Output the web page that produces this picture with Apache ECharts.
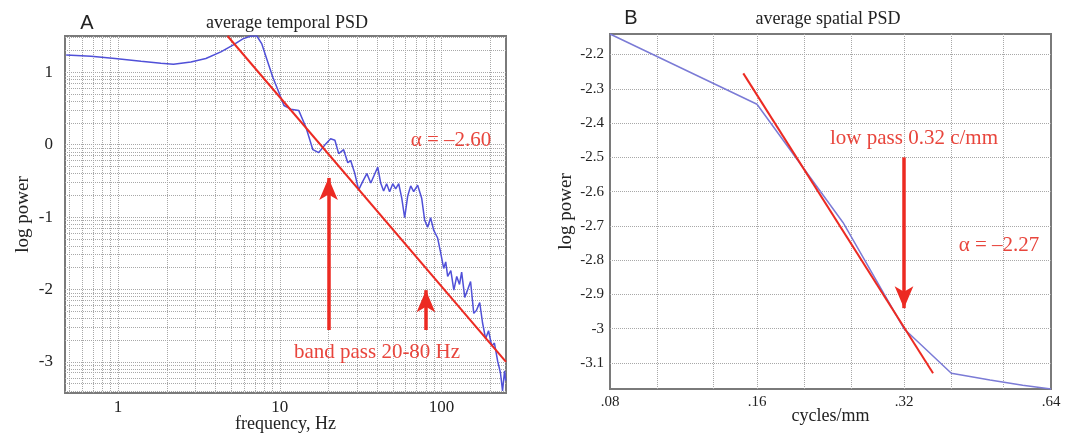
<!DOCTYPE html>
<html>
<head>
<meta charset="utf-8">
<script src="https://cdn.jsdelivr.net/npm/echarts@6/dist/echarts.min.js"></script>
<style>
  html, body { margin: 0; padding: 0; background: #fff; }
  #chart { width: 1069px; height: 434px; }
</style>
</head>
<body>
<div id="chart"></div>
<script>
// ---- panel A: average temporal PSD ----
const tempFreq = [0.478, 0.681, 0.958, 1.387, 1.84, 2.2, 2.82, 3.49, 4.32, 5.13, 5.91, 6.63, 7.21, 7.74, 8.31,
  9.05, 9.87, 10.6, 11.7, 13.1, 14.5, 16.0, 17.4, 18.9, 20.6, 21.9, 23.1, 24.8, 26.3, 27.4, 29.0, 30.7,
  32.5, 34.5, 36.5, 38.0, 40.3, 42.0, 43.8, 45.7, 47.7, 49.9, 52.0, 54.3, 56.7, 59.1, 61.7, 64.4, 67.2,
  71.1, 75.3, 78.5, 82.0, 85.5, 89.3, 94.5, 98.6, 103, 106, 109, 114, 119, 124, 129, 133, 139, 145, 151, 158,
  164, 172, 179, 187, 195, 204, 212, 222, 231, 238, 245, 249];
const tempPower = [1.236, 1.22, 1.19, 1.15, 1.125, 1.11, 1.14, 1.19, 1.28, 1.375, 1.46, 1.5, 1.5, 1.39, 1.18,
  0.93, 0.72, 0.54, 0.49, 0.47, 0.24, -0.07, -0.11, -0.01, 0.08, 0.06, -0.125, -0.07, -0.25, -0.22, -0.39, -0.625,
  -0.51, -0.40, -0.53, -0.44, -0.31, -0.53, -0.64, -0.54, -0.65, -0.54, -0.61, -0.54, -0.74, -1.01, -0.71, -0.57, -0.65,
  -0.56, -0.74, -1.04, -1.14, -1.01, -1.18, -1.29, -1.49, -1.71, -1.62, -1.82, -1.74, -2.01, -1.82, -1.93, -1.76, -2.11, -2.0, -1.89, -2.33,
  -2.29, -2.18, -2.46, -2.68, -2.57, -2.78, -2.74, -2.99, -3.15, -3.40, -3.125, -3.26];
const tempFitFreq = [4.75, 250];
const tempFitPower = [1.5, -3.0];
const tempXLabels = [1, 10, 100];
const tempYLabels = [-3, -2, -1, 0, 1];
// arrows: [x, from, to]
const tempArrows = [[20, -2.56, -0.46], [80, -2.56, -2.01]];

// ---- panel B: average spatial PSD ----
const spatFreq = [0.08, 0.16, 0.24, 0.32, 0.40, 0.48, 0.56, 0.64];
const spatPower = [-2.14, -2.345, -2.69, -3.0, -3.13, -3.15, -3.165, -3.176];
const spatFitFreq = [0.15, 0.367];
const spatFitPower = [-2.255, -3.13];
const spatXLabels = [0.08, 0.16, 0.32, 0.64];
const spatYLabels = [-2.2, -2.3, -2.4, -2.5, -2.6, -2.7, -2.8, -2.9, -3.0, -3.1];
const spatArrows = [[0.32, -2.5, -2.94]];

const pairs = (xs, ys) => xs.map((x, i) => [x, ys[i]]);

const SERIF = '"Liberation Serif", "DejaVu Serif", serif';
const RED = '#ec2a22';
const RED_TXT = '#e8453c';
const GRID_C = '#a8a8a8';

// grid line positions (log-style, like the matlab plot)
const aMin = 0.47, aMax = 250, aYMin = -3.43, aYMax = 1.5;
const aVert = [], aHorz = [];
for (const d of [0.1, 1, 10, 100]) {
  for (let m = 1; m <= 9; m++) {
    const v = m * d;
    if (v > aMin && v < aMax) aVert.push({ xAxis: v });
  }
}
for (let k = -4; k <= 1; k++) {
  for (let m = 1; m <= 9; m++) {
    const v = k + Math.log10(m);
    if (v > aYMin && v < aYMax) aHorz.push({ yAxis: v });
  }
}
const bMin = 0.08, bMax = 0.64, bYMin = -3.176, bYMax = -2.14;
const bVert = [], bHorz = [];
for (let k = 1; k < 9; k++) bVert.push({ xAxis: bMin * Math.pow(2, k / 3) });
for (const v of spatYLabels) bHorz.push({ yAxis: v });

const gridLines = (items) => ({
  silent: true, symbol: 'none', z: 1, animation: false,
  label: { show: false },
  lineStyle: { type: 'dotted', color: GRID_C, width: 1 },
  data: items
});

const arrowLines = (arr) => ({
  silent: true, symbol: ['none', 'arrow'], symbolSize: [14, 22], animation: false,
  label: { show: false },
  lineStyle: { type: 'solid', color: RED, width: 3.5 },
  data: arr.map(a => [{ coord: [a[0], a[1]] }, { coord: [a[0], a[2]] }])
});

const tickText = { fontFamily: SERIF, fontSize: 17, color: '#222' };
const nameText = { fontFamily: SERIF, fontSize: 18, color: '#222' };
const yNameText = { fontFamily: SERIF, fontSize: 19, color: '#222' };

const chart = echarts.init(document.getElementById('chart'));
chart.setOption({
  animation: false,
  grid: [
    { left: 65, top: 36, width: 441, height: 357, outerBoundsMode: 'none', containLabel: false,
      show: true, borderColor: '#7a7a7a', borderWidth: 2, backgroundColor: '#fff' },
    { left: 610, top: 34, width: 441, height: 355, outerBoundsMode: 'none', containLabel: false,
      show: true, borderColor: '#7a7a7a', borderWidth: 2, backgroundColor: '#fff' }
  ],
  xAxis: [
    {
      type: 'log', logBase: 10, gridIndex: 0, min: aMin, max: aMax,
      name: 'frequency, Hz', nameLocation: 'middle', nameGap: 22, nameMoveOverlap: false, nameTextStyle: nameText,
      axisLine: { show: false }, axisTick: { show: false }, splitLine: { show: false },
      axisLabel: { ...tickText, margin: 6, customValues: tempXLabels, formatter: v => String(v) }
    },
    {
      type: 'log', logBase: 2, gridIndex: 1, min: bMin, max: bMax,
      name: 'cycles/mm', nameLocation: 'middle', nameGap: 18, nameMoveOverlap: false, nameTextStyle: nameText,
      axisLine: { show: false }, axisTick: { show: false }, splitLine: { show: false },
      axisLabel: { ...tickText, fontSize: 15, margin: 6, customValues: spatXLabels,
        formatter: v => Number(v).toFixed(2).replace(/^0/, '') }
    }
  ],
  yAxis: [
    {
      type: 'value', gridIndex: 0, min: aYMin, max: aYMax,
      name: 'log power', nameLocation: 'middle', nameGap: 32, nameMoveOverlap: false, nameTextStyle: yNameText,
      axisLine: { show: false }, axisTick: { show: false }, splitLine: { show: false },
      axisLabel: { ...tickText, margin: 12, customValues: tempYLabels, formatter: v => String(Math.round(v)) }
    },
    {
      type: 'value', gridIndex: 1, min: bYMin, max: bYMax,
      name: 'log power', nameLocation: 'middle', nameGap: 34, nameMoveOverlap: false, nameTextStyle: yNameText,
      axisLine: { show: false }, axisTick: { show: false }, splitLine: { show: false },
      axisLabel: { ...tickText, fontSize: 15, margin: 6, customValues: spatYLabels,
        formatter: v => String(+Number(v).toFixed(1)) }
    }
  ],
  series: [
    {
      name: 'temporal PSD', type: 'line', xAxisIndex: 0, yAxisIndex: 0,
      data: pairs(tempFreq, tempPower), showSymbol: false, z: 3,
      lineStyle: { color: '#5050d8', width: 1.5 },
      markLine: gridLines(aVert.concat(aHorz))
    },
    {
      name: 'temporal fit', type: 'line', xAxisIndex: 0, yAxisIndex: 0,
      data: pairs(tempFitFreq, tempFitPower), showSymbol: false, z: 4,
      lineStyle: { color: RED, width: 2 },
      markLine: arrowLines(tempArrows)
    },
    {
      name: 'spatial PSD', type: 'line', xAxisIndex: 1, yAxisIndex: 1,
      data: pairs(spatFreq, spatPower), showSymbol: false, z: 3,
      lineStyle: { color: '#7b7bd6', width: 1.5 },
      markLine: gridLines(bVert.concat(bHorz))
    },
    {
      name: 'spatial fit', type: 'line', xAxisIndex: 1, yAxisIndex: 1,
      data: pairs(spatFitFreq, spatFitPower), showSymbol: false, z: 4,
      lineStyle: { color: RED, width: 2 },
      markLine: arrowLines(spatArrows)
    }
  ],
  graphic: [
    { type: 'text', x: 87, y: 23, style: { text: 'A', font: '20px "Liberation Sans", Arial, sans-serif', fill: '#222', align: 'center', verticalAlign: 'middle' } },
    { type: 'text', x: 631, y: 18, style: { text: 'B', font: '20px "Liberation Sans", Arial, sans-serif', fill: '#222', align: 'center', verticalAlign: 'middle' } },
    { type: 'text', x: 287, y: 23, style: { text: 'average temporal PSD', font: '18px ' + SERIF, fill: '#222', align: 'center', verticalAlign: 'middle' } },
    { type: 'text', x: 828, y: 19, style: { text: 'average spatial PSD', font: '18px ' + SERIF, fill: '#222', align: 'center', verticalAlign: 'middle' } },
    { type: 'text', x: 451, y: 140, z: 10, style: { text: 'α = –2.60', font: '21px ' + SERIF, fill: RED_TXT, align: 'center', verticalAlign: 'middle' } },
    { type: 'text', x: 377, y: 352, z: 10, style: { text: 'band pass 20-80 Hz', font: '21px ' + SERIF, fill: RED_TXT, align: 'center', verticalAlign: 'middle' } },
    { type: 'text', x: 914, y: 138, z: 10, style: { text: 'low pass 0.32 c/mm', font: '21px ' + SERIF, fill: RED_TXT, align: 'center', verticalAlign: 'middle' } },
    { type: 'text', x: 999, y: 245, z: 10, style: { text: 'α = –2.27', font: '21px ' + SERIF, fill: RED_TXT, align: 'center', verticalAlign: 'middle' } }
  ]
});
</script>
</body>
</html>
